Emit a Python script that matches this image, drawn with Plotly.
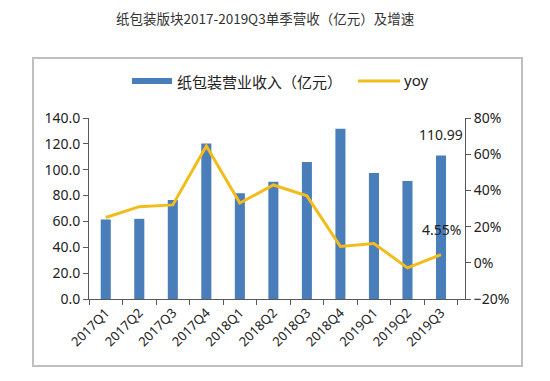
import plotly.graph_objects as go

categories = ["2017Q1", "2017Q2", "2017Q3", "2017Q4", "2018Q1", "2018Q2",
              "2018Q3", "2018Q4", "2019Q1", "2019Q2", "2019Q3"]
revenue = [61.5, 62.0, 76.5, 120.3, 81.8, 90.6, 106.0, 131.7, 97.4, 91.2, 110.99]
yoy = [25.0, 31.0, 32.0, 64.5, 33.0, 43.0, 37.0, 9.0, 10.7, -2.8, 4.55]

title_text = "纸包装版块2017-2019Q3单季营收（亿元）及增速"
bar_name = "纸包装营业收入（亿元）"
line_name = "yoy"

OFF = 8  # page body margin
W, H = 550 - OFF, 381 - OFF
L, R, T, B = 89 - OFF, 465 - OFF, 118 - OFF, 299 - OFF

def px(x):
    return (x - OFF - L) / (R - L)

def py(y):
    return (B - (y - OFF)) / (B - T)

bar_color = "#4A7EBB"
line_color = "#F2BC1B"
axis_color = "#595959"
font_num = "Noto Sans, Liberation Sans, sans-serif"
font_cjk = "Noto Sans CJK SC, sans-serif"

fig = go.Figure()
fig.add_trace(go.Bar(x=categories, y=revenue, name=bar_name,
                     marker=dict(color=bar_color, line=dict(width=0)),
                     showlegend=False, yaxis="y"))
fig.add_trace(go.Scatter(x=categories, y=yoy, name=line_name, mode="lines",
                         line=dict(color=line_color, width=3),
                         showlegend=False, yaxis="y2"))

shapes = [
    dict(type="rect", xref="paper", yref="paper",
         x0=px(33), x1=px(522), y0=py(366), y1=py(58),
         line=dict(color="#BFBFBF", width=2), fillcolor="rgba(0,0,0,0)", layer="below"),
    dict(type="rect", xref="paper", yref="paper",
         x0=px(132), x1=px(172), y0=py(84), y1=py(78),
         line=dict(width=0), fillcolor=bar_color),
    dict(type="line", xref="paper", yref="paper",
         x0=px(358), x1=px(400), y0=py(81), y1=py(81),
         line=dict(color=line_color, width=3)),
]

annotations = [
    dict(text=title_text, xref="paper", yref="paper", x=px(265), y=py(18),
         showarrow=False, xanchor="center", yanchor="middle",
         font=dict(family=font_cjk, size=13.5, color="#333333")),
    dict(text=bar_name, xref="paper", yref="paper", x=px(175), y=py(81),
         showarrow=False, xanchor="left", yanchor="middle",
         font=dict(family=font_cjk, size=15, color="#222222")),
    dict(text=line_name, xref="paper", yref="paper", x=px(402), y=py(80),
         showarrow=False, xanchor="left", yanchor="middle",
         font=dict(family=font_num, size=15, color="#222222")),
    dict(text=f"{revenue[-1]:.2f}", x=categories[-1], y=revenue[-1], xref="x", yref="y",
         showarrow=False, xanchor="center", yanchor="middle", yshift=21,
         font=dict(family=font_num, size=14, color="#222222")),
    dict(text=f"{yoy[-1]:.2f}%", x=categories[-1], y=yoy[-1], xref="x", yref="y2",
         showarrow=False, xanchor="center", yanchor="middle", yshift=25,
         font=dict(family=font_num, size=14, color="#222222")),
]

fig.update_layout(
    width=W, height=H,
    margin=dict(l=L, r=W - R, t=T, b=H - B, pad=0),
    paper_bgcolor="white", plot_bgcolor="white",
    bargap=0.7,
    shapes=shapes, annotations=annotations,
    xaxis=dict(type="category", showline=True, linecolor=axis_color, linewidth=1,
               ticks="outside", tickson="boundaries", ticklen=5, tickcolor=axis_color,
               tickangle=-45, showgrid=False, zeroline=False,
               tickfont=dict(family=font_num, size=13, color="#222222")),
    yaxis=dict(range=[0, 140], dtick=20, tickformat=".1f", showline=True,
               linecolor=axis_color, ticks="outside", ticklen=5, tickcolor=axis_color,
               showgrid=False, zeroline=False,
               tickfont=dict(family=font_num, size=14, color="#222222")),
    yaxis2=dict(range=[-20, 80], dtick=20, ticksuffix="%", overlaying="y", side="right",
                showline=True, linecolor=axis_color, ticks="outside", ticklen=5,
                tickcolor=axis_color, showgrid=False, zeroline=False,
                tickfont=dict(family=font_num, size=14, color="#222222")),
)

fig.write_html("out.html")
